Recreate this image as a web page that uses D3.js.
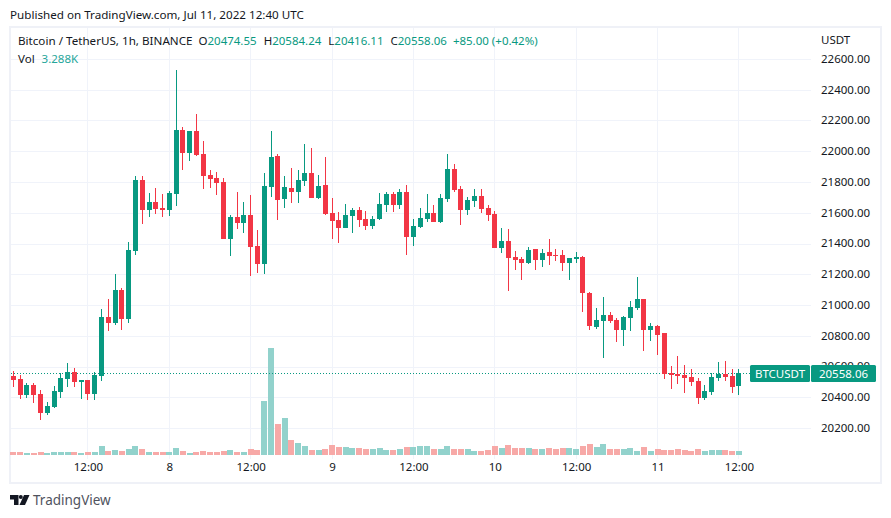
<!DOCTYPE html>
<html>
<head>
<meta charset="utf-8">
<script src="https://cdn.jsdelivr.net/npm/d3@7/dist/d3.min.js"></script>
<style>
html,body{margin:0;padding:0;background:#fff}
svg{display:block}
text{font-family:"Noto Sans",sans-serif}
</style>
</head>
<body>
<svg id="c" width="891" height="518"></svg>
<script>
const open=[20540,20521,20417,20482,20423,20300,20339,20436,20521,20566,20501,20514,20423,20540,20924,20885,21100,20911,21353,21815,21620,21672,21633,21620,21724,22140,21990,22134,21984,21848,21828,21802,21431,21574,21535,21587,21386,21269,21770,21971,21691,21763,21737,21809,21860,21698,21783,21600,21555,21503,21581,21620,21561,21516,21561,21652,21724,21652,21737,21444,21509,21561,21600,21542,21691,21887,21757,21620,21678,21711,21633,21594,21373,21418,21314,21301,21275,21366,21295,21347,21327,21327,21275,21301,21314,21080,20859,20898,20937,20904,20839,20917,20982,21041,20839,20865,20820,20559,20553,20547,20534,20508,20397,20436,20527,20553,20540,20474.55];
const high=[20573,20547,20495,20495,20449,20371,20475,20560,20625,20592,20516,20516,20566,20976,21041,21204,21113,21412,21841,21841,21731,21763,21724,21744,22530,22160,22134,22244,22069,21880,21867,21828,21587,21737,21672,21718,21490,21861,22134,21984,21841,21893,21880,22049,22023,21848,21965,21698,21607,21659,21633,21639,21613,21581,21731,21737,21737,21757,21782,21561,21633,21724,21652,21724,21984,21919,21776,21704,21756,21756,21652,21613,21503,21496,21353,21314,21379,21368,21366,21431,21366,21360,21310,21347,21321,21086,20982,21054,20956,20917,20930,21028,21184,21043,20885,20872,20822,20605,20670,20611,20586,20527,20482,20560,20631,20638,20586,20584.24];
const low=[20469,20391,20397,20365,20254,20287,20332,20397,20469,20469,20391,20384,20384,20508,20833,20872,20839,20885,21327,21529,21574,21594,21574,21581,21646,21880,21939,21971,21757,21763,21718,21428,21321,21496,21470,21191,21210,21204,21704,21555,21633,21665,21665,21776,21696,21691,21587,21431,21405,21500,21470,21509,21490,21496,21558,21607,21607,21626,21327,21386,21503,21542,21540,21535,21672,21737,21522,21587,21639,21600,21548,21370,21340,21093,21230,21165,21269,21230,21249,21262,21288,21223,21165,21275,20956,20839,20846,20657,20885,20761,20735,20833,20969,20703,20768,20677,20520,20456,20488,20430,20475,20358,20384,20417,20508,20508,20430,20416.11];
const close=[20514,20417,20482,20417,20300,20345,20443,20527,20566,20501,20514,20423,20547,20924,20885,21100,20911,21360,21815,21620,21672,21626,21620,21730,22140,21991,22134,21978,21841,21822,21796,21431,21574,21535,21587,21379,21269,21776,21965,21685,21770,21737,21815,21861,21698,21776,21594,21548,21503,21587,21620,21555,21516,21561,21659,21724,21652,21737,21444,21516,21568,21600,21542,21698,21887,21750,21620,21685,21711,21626,21587,21373,21418,21308,21295,21275,21360,21295,21340,21321,21320,21275,21308,21314,21080,20865,20904,20937,20898,20839,20924,20989,21041,20839,20865,20807,20553,20547,20540,20527,20501,20397,20443,20534,20553,20534,20469,20558.06];
const volumeK=[2.5,2.5,1.6,1.6,2.5,1.6,2.5,2.5,2.5,2.5,1.6,2.5,2.5,7.4,3.3,4.1,3.3,4.9,7.4,4.9,2.5,2.5,2.5,2.5,5.8,3.3,1.6,2.5,3.3,2.5,2.5,3.3,4.1,2.5,2.5,4.9,4.1,44.4,88,25.5,30.4,12.3,9.9,7.4,4.1,4.1,4.9,8.2,6.6,6.6,5.8,5.8,4.9,4.9,5.8,4.1,4.1,4.9,6.6,6.6,7.4,7.4,4.9,4.9,7.4,4.9,4.9,4.9,3.3,3.3,4.1,7.4,5.8,8.2,5.8,5.8,5.8,4.9,4.9,5.8,4.9,5.8,5.8,4.9,7.4,9,6.6,9,4.9,4.9,4.9,5.8,3.3,6.6,3.3,4.9,4.1,4.1,4.9,4.1,3.3,4.9,3.3,4.1,4.1,4.1,3.3,3.288];
const priceTicks=[20200,20400,20600,20800,21000,21200,21400,21600,21800,22000,22200,22400,22600];
const timeTickBars=[11,23,35,47,59,71,83,95,107];
const timeTickLabels=["12:00","8","12:00","9","12:00","10","12:00","11","12:00"];
const ohlcValues=["20474.55","20584.24","20416.11","20558.06"];

const UP="#089981",DOWN="#F23645",UPV="#92D2CC",DOWNV="#F7A9A7",GRID="#F0F3FA",AX="#131722";
const svg=d3.select("#c");
const x=d3.scaleLinear().domain([0,107]).range([13.4,738.9]);
const y=d3.scaleLinear().domain([20200,22600]).range([428.3,59.3]);
const v=d3.scaleLinear().domain([0,88]).range([455,348]);
const idx=d3.range(open.length);
const px=n=>Math.round(n);

svg.append("text").attr("x",10).attr("y",19).attr("font-size",11.65).attr("fill",AX)
  .text("Published on TradingView.com, Jul 11, 2022 12:40 UTC");

// frame
svg.append("rect").attr("x",10).attr("y",27).attr("width",871).attr("height",456)
  .attr("fill","#fff").attr("stroke","#EFF1F7").attr("stroke-width",2);

const clipG=svg.append("g").attr("shape-rendering","crispEdges");
// grid
clipG.append("g").selectAll("line").data(priceTicks).join("line")
  .attr("x1",11).attr("x2",811).attr("y1",d=>px(y(d)-0.3)+.5).attr("y2",d=>px(y(d)-0.3)+.5)
  .attr("stroke",GRID);
clipG.append("g").selectAll("line").data(timeTickBars).join("line")
  .attr("x1",d=>px(x(d)-.5)+.5).attr("x2",d=>px(x(d)-.5)+.5).attr("y1",28).attr("y2",459)
  .attr("stroke",GRID);

// volume
clipG.append("g").selectAll("rect").data(idx).join("rect")
  .attr("x",i=>px(x(i)-3)).attr("width",6)
  .attr("y",i=>px(v(volumeK[i]))).attr("height",i=>455-px(v(volumeK[i])))
  .attr("fill",i=>close[i]>=open[i]?UPV:DOWNV);

// last price line
svg.append("line").attr("x1",11).attr("x2",750).attr("y1",px(y(close[107]))+.5).attr("y2",px(y(close[107]))+.5)
  .attr("stroke",UP).attr("stroke-dasharray","1 2").attr("shape-rendering","crispEdges");

// candles
const cg=svg.append("g").attr("shape-rendering","crispEdges");
cg.append("g").selectAll("rect").data(idx).join("rect")
  .attr("x",i=>px(x(i)-.5)).attr("width",1)
  .attr("y",i=>px(y(high[i]))).attr("height",i=>Math.max(1,px(y(low[i]))-px(y(high[i]))))
  .attr("fill",i=>close[i]>=open[i]?UP:DOWN);
cg.append("g").selectAll("rect").data(idx).join("rect")
  .attr("x",i=>px(x(i)-2.5)).attr("width",5)
  .attr("y",i=>px(y(Math.max(open[i],close[i]))))
  .attr("height",i=>Math.max(1,px(y(Math.min(open[i],close[i])))-px(y(Math.max(open[i],close[i])))))
  .attr("fill",i=>close[i]>=open[i]?UP:DOWN);

// axes
const ya=d3.axisRight(y).tickValues(priceTicks).tickSize(0).tickPadding(0).tickFormat(d=>d.toFixed(2));
const gy=svg.append("g").attr("transform","translate(821,-0.5)").call(ya);
gy.select(".domain").remove();
gy.selectAll("text").attr("font-size",11.5).attr("fill",AX).attr("font-family",'"Noto Sans",sans-serif');

const xa=d3.axisBottom(x).tickValues(timeTickBars).tickSize(0).tickPadding(0)
  .tickFormat((d,i)=>timeTickLabels[i]);
const gx=svg.append("g").attr("transform","translate(0,462.5)").call(xa);
gx.select(".domain").remove();
gx.selectAll("text").attr("font-size",11.5).attr("fill",AX).attr("font-family",'"Noto Sans",sans-serif');

svg.append("text").attr("x",821).attr("y",44).attr("font-size",11.5).attr("fill",AX).text("USDT");

// legend
const l=svg.append("text").attr("x",18).attr("y",45).attr("font-size",11.5).attr("fill",AX);
l.append("tspan").attr("font-size",11.65).text("Bitcoin / TetherUS, 1h, BINANCE");
const names=["O","H","L","C"];
names.forEach((n,i)=>{
  l.append("tspan").attr("dx",i===0?6:7).text(n);
  l.append("tspan").attr("fill",UP).text(ohlcValues[i]);
});
l.append("tspan").attr("dx",6).attr("fill",UP).text("+85.00 (+0.42%)");
const vl=svg.append("text").attr("x",18).attr("y",63).attr("font-size",11.5).attr("fill",AX);
vl.append("tspan").text("Vol");
vl.append("tspan").attr("dx",7).attr("fill","#26A69A").text("3.288K");

// badges
const by=365,bh=17;
svg.append("rect").attr("x",750).attr("y",by).attr("width",60).attr("height",bh).attr("rx",1.5).attr("fill",UP);
svg.append("rect").attr("x",811).attr("y",by).attr("width",65).attr("height",bh).attr("rx",1.5).attr("fill",UP);
svg.append("text").attr("x",780).attr("y",by+12.5).attr("text-anchor","middle").attr("font-size",11.5).attr("fill","#fff").text("BTCUSDT");
svg.append("text").attr("x",843.5).attr("y",by+12.5).attr("text-anchor","middle").attr("font-size",11.5).attr("fill","#fff").text(ohlcValues[3]);

// logo
const logo=svg.append("g").attr("fill","#131722");
logo.append("path").attr("d","M10 495H18.5V505H14V499.5H10Z");
logo.append("circle").attr("cx",20.8).attr("cy",497).attr("r",2);
logo.append("path").attr("d","M24 495H29.5L25 505H19.5Z");
svg.append("text").attr("x",33).attr("y",505).attr("font-size",13.5).attr("fill","#50535E").text("TradingView");
</script>
</body>
</html>
